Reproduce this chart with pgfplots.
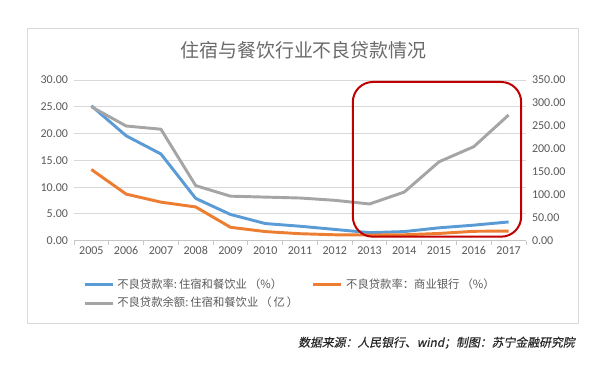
\documentclass[border=0pt]{standalone}
\usepackage{pgfplots}
\pgfplotsset{compat=1.18}
\usepackage{pgfplotstable}
\usepackage{fontspec}
\newfontfamily\cjk{Noto Sans CJK SC}
\newfontfamily\cjkit[FakeSlant=0.2,FakeBold=0.3]{Noto Sans CJK SC}
\newfontfamily\carlito{Carlito}
\definecolor{cblue}{HTML}{5B9BD5}
\definecolor{corange}{HTML}{ED7D31}
\definecolor{cgray}{HTML}{A5A5A5}
\definecolor{cgrid}{HTML}{D9D9D9}
\definecolor{ctext}{HTML}{595959}
\definecolor{cred}{HTML}{C00000}

\pgfplotstableread{
x blue orange
0 25.2 13.3
1 19.6 8.7
2 16.2 7.2
3 7.9 6.3
4 4.9 2.5
5 3.2 1.7
6 2.7 1.3
7 2.1 1.1
8 1.5 1.05
9 1.7 1.1
10 2.4 1.35
11 2.9 1.75
12 3.5 1.8
}\ratetable

\pgfplotstableread{
x gray
0 292
1 250
2 243
3 120
4 97
5 95
6 93
7 88
8 80
9 106
10 172
11 205
12 274
}\amounttable

\begin{document}
\begin{tikzpicture}
\useasboundingbox (0,0) rectangle (454.5pt,279pt);
% outer frame
\draw[cgrid, line width=0.75pt] (20.5pt,36.5pt) rectangle (434pt,257.8pt);
% title
\node[font=\cjk\fontsize{14.2}{16}\selectfont, text=ctext!90] at (227.6pt,241.1pt) {住宿与餐饮行业不良贷款情况};
% source
\node[font=\cjkit\fontsize{8.9}{10}\selectfont, text=black!85, anchor=east, inner sep=0pt] at (431.25pt,22pt) {数据来源：人民银行、wind；制图：苏宁金融研究院};

\pgfplotsset{
  common/.style={
    scale only axis, width=339pt, height=120.4pt,
    at={(55.5pt,98.5pt)}, anchor=south west,
    xmin=-0.5, xmax=12.5,
    tick label style={font=\carlito\fontsize{9}{10}\selectfont, text=ctext},
    /pgf/number format/assume math mode=true,
    /pgf/number format/.cd, fixed, fixed zerofill, precision=2, /pgfplots/.cd,
  },
}

\begin{axis}[common,
  ymin=0, ymax=30,
  axis x line*=bottom, axis y line*=left,
  y axis line style={draw=none},
  x axis line style={draw=cgrid!80!gray, line width=0.75pt},
  xtick={0,...,12},
  xticklabels={2005,2006,2007,2008,2009,2010,2011,2012,2013,2014,2015,2016,2017},
  major x tick style={draw=none},
  extra x ticks={-0.5,0.5,...,12.5},
  extra x tick labels={},
  extra x tick style={tick align=outside, major tick length=3pt, major x tick style={draw=cgrid!80!gray, line width=0.75pt}},
  ytick={0,5,...,30},
  major y tick style={draw=none},
  ymajorgrids, grid style={cgrid, line width=0.75pt},
  xticklabel style={yshift=-1pt},
  yticklabel style={xshift=-1pt},
  legend columns=2,
  legend cell align=left,
  legend image code/.code={\draw[#1] (0pt,0pt) -- (21pt,0pt);},
  legend style={draw=none, fill=none, inner sep=0pt, outer sep=0pt,
    at={(axis description cs:0.02,-0.24)}, anchor=north west,
    font=\cjk\fontsize{8.5}{9}\selectfont, text=ctext,
    nodes={inner sep=0pt, text height=6.8pt, text depth=1.6pt},
    row sep=5.4pt,
    /tikz/every odd column/.append style={column sep=2.5pt}},
]
\addplot[cblue, line width=2.2pt, line join=round] table[x=x, y=blue] {\ratetable};
\addlegendentry{\makebox[146pt][l]{不良贷款率:\,住宿和餐饮业\hspace{1.5pt}（\%）}}
\addplot[corange, line width=2.2pt, line join=round] table[x=x, y=orange] {\ratetable};
\addlegendentry{不良贷款率：商业银行\hspace{1.5pt}（\%）}
\addlegendimage{cgray, line width=2.2pt}
\addlegendentry{\makebox[146pt][l]{不良贷款余额:\,住宿和餐饮业\hspace{1.5pt}（\,亿\,）}}
\end{axis}

\begin{axis}[common,
  ymin=0, ymax=350,
  axis x line=none, axis y line*=right,
  y axis line style={draw=none},
  ytick={0,50,...,350},
  major y tick style={draw=none},
  yticklabel style={xshift=1pt},
  clip=false,
]
\addplot[cgray, line width=2.2pt, line join=round] table[x=x, y=gray] {\amounttable};
\draw[cred, line width=1.5pt, rounded corners=15pt] (axis cs:7.52,8.7) rectangle (axis cs:12.36,346);
\end{axis}
\end{tikzpicture}
\end{document}
